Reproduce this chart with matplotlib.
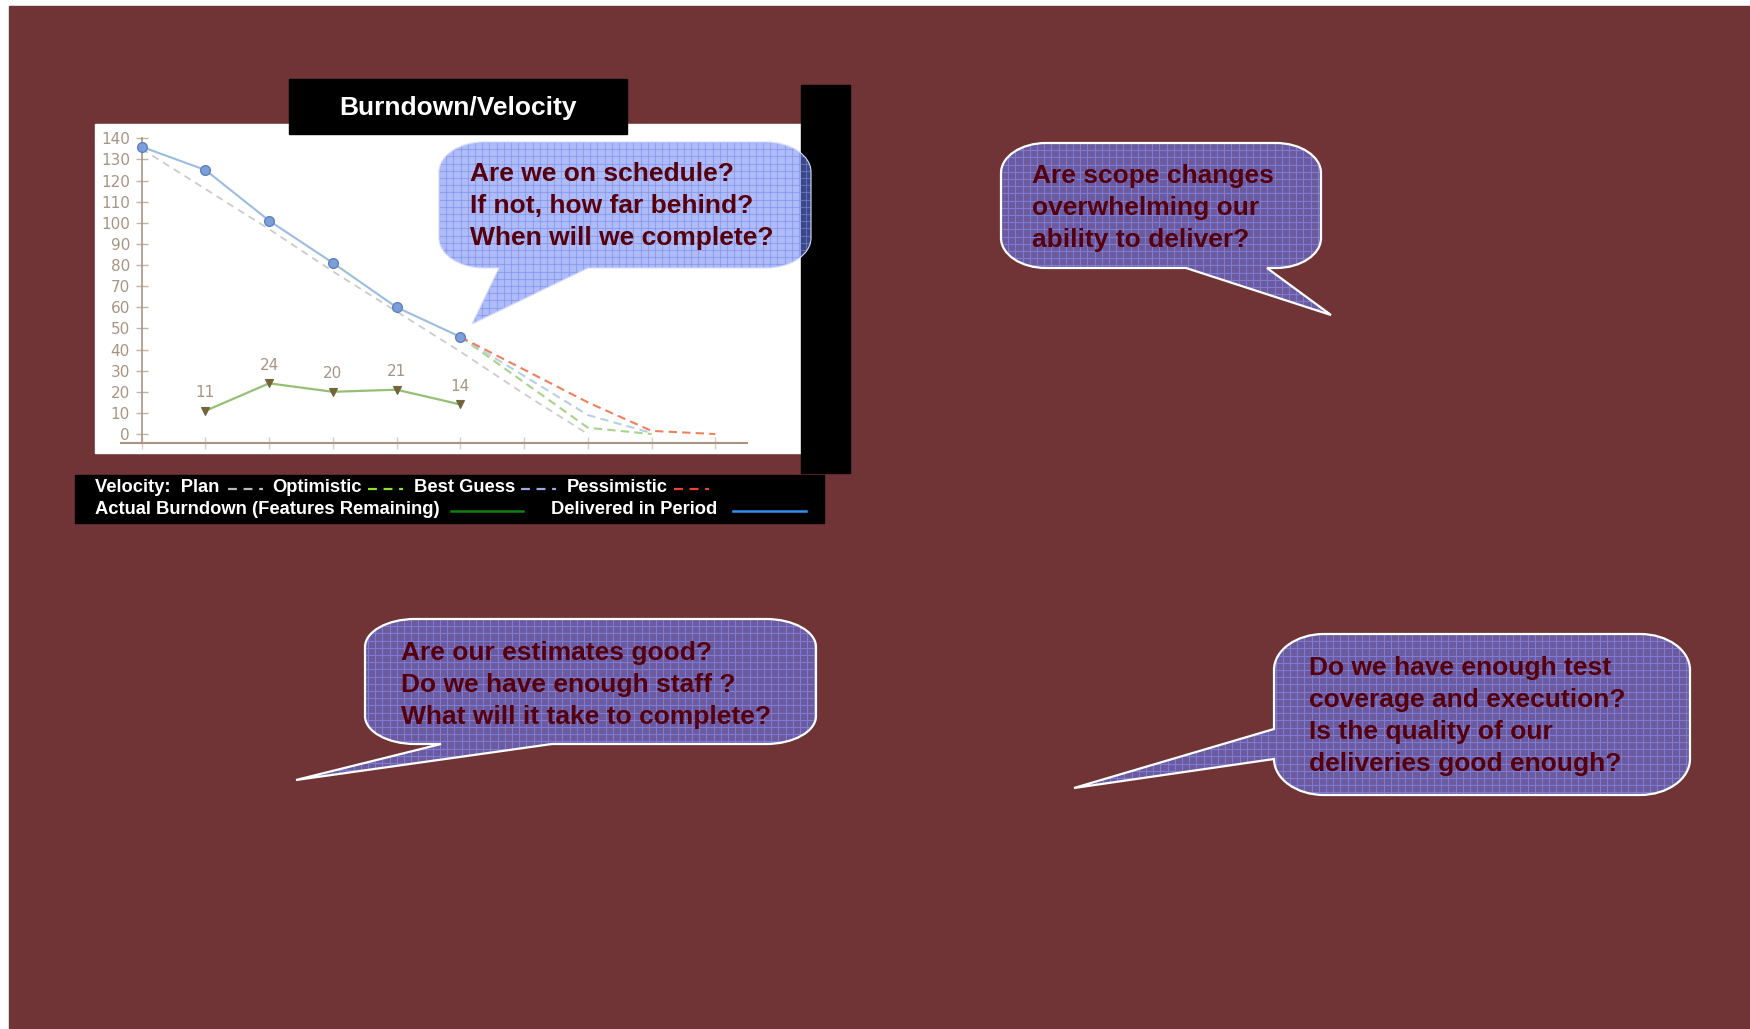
import numpy as np
import matplotlib
matplotlib.use("Agg")
import matplotlib.pyplot as plt
from matplotlib.path import Path
from matplotlib.patches import PathPatch, Rectangle
from matplotlib.collections import LineCollection

### Data
y_ticks = [0, 10, 20, 30, 40, 50, 60, 70, 80, 90, 100, 110, 120, 130, 140]
periods = [0, 1, 2, 3, 4, 5, 6, 7, 8, 9]

plan_x = [0, 1, 2, 3, 4, 5, 6, 7]
plan = [135, 116, 97, 77, 58, 39, 19, 0]

actual_x = [0, 1, 2, 3, 4, 5]
actual = [136, 125, 101, 81, 60, 46]

optimistic_x = [5, 7, 8]
optimistic = [46, 3, 0]
best_guess_x = [5, 7, 8]
best_guess = [46, 9, 0.5]
pessimistic_x = [5, 7, 8, 9]
pessimistic = [46, 15, 1.5, 0]

delivered_x = [1, 2, 3, 4, 5]
delivered = [11, 24, 20, 21, 14]

q_schedule = ["Are we on schedule?", "If not, how far behind?", "When will we complete?"]
q_scope = ["Are scope changes", "overwhelming our", "ability to deliver?"]
q_estimates = ["Are our estimates good?", "Do we have enough staff ?", "What will it take to complete?"]
q_quality = ["Do we have enough test", "coverage and execution?", "Is the quality of our",
             "deliveries good enough?"]

### Styles
W, H = 1750, 1029
MAROON = "#703437"
AXIS_GREY = "#a89484"
TEXT_RED = "#55000c"
BOLD = dict(family=["Liberation Sans", "DejaVu Sans"], fontweight="bold")
K = 0.5523


def bubble_path(x0, y0, x1, y1, rx, ry, tail):
    edge, p, q, tip = tail
    verts, codes = [(x0 + rx, y0)], [Path.MOVETO]

    def line(pt):
        verts.append(pt)
        codes.append(Path.LINETO)

    def corner(a, b, c):
        verts.extend([a, b, c])
        codes.extend([Path.CURVE4] * 3)

    line((x1 - rx, y0))
    corner((x1 - rx + K * rx, y0), (x1, y0 + ry - K * ry), (x1, y0 + ry))
    line((x1, y1 - ry))
    corner((x1, y1 - ry + K * ry), (x1 - rx + K * rx, y1), (x1 - rx, y1))
    if edge == "bottom":
        line((q, y1))
        line(tip)
        line((p, y1))
    line((x0 + rx, y1))
    corner((x0 + rx - K * rx, y1), (x0, y1 - ry + K * ry), (x0, y1 - ry))
    if edge == "left":
        line((x0, q))
        line(tip)
        line((x0, p))
    line((x0, y0 + ry))
    corner((x0, y0 + ry - K * ry), (x0 + rx - K * rx, y0), (x0 + rx, y0))
    verts.append((x0 + rx, y0))
    codes.append(Path.CLOSEPOLY)
    return Path(verts, codes)


def draw_bubble(ax, path, face, grid, edge, lw, alpha=1.0, step=7.2):
    patch = PathPatch(path, facecolor=face, edgecolor="none", alpha=alpha, zorder=1)
    ax.add_patch(patch)
    ext = path.get_extents()
    segs = [[(x, ext.y0), (x, ext.y1)] for x in np.arange(ext.x0, ext.x1, step)]
    segs += [[(ext.x0, y), (ext.x1, y)] for y in np.arange(ext.y0, ext.y1, step)]
    lc = LineCollection(segs, colors=grid, linewidths=0.8, zorder=2)
    ax.add_collection(lc)
    lc.set_clip_path(patch)
    ax.add_patch(PathPatch(path, facecolor="none", edgecolor=edge, lw=lw, zorder=3))


def bubble_text(ax, x, y, lines, dy, size=19):
    for i, s in enumerate(lines):
        ax.text(x, y + i * dy, s, color=TEXT_RED, fontsize=size, va="center", ha="left",
                zorder=4, **BOLD)


fig = plt.figure(figsize=(W / 100, H / 100), dpi=100, facecolor="white")

# background layer in pixel coordinates
bg = fig.add_axes([0, 0, 1, 1], zorder=0)
bg.set_xlim(0, W)
bg.set_ylim(H, 0)
bg.axis("off")
bg.add_patch(Rectangle((9, 6), W - 9, H - 6, color=MAROON))
bg.add_patch(Rectangle((95, 124), 706, 329, color="white"))
bg.add_patch(Rectangle((801, 85), 49, 388, color="black"))
bg.add_patch(Rectangle((289, 79), 338, 55, color="black"))
bg.text(458, 108, "Burndown/Velocity", color="white", fontsize=19, ha="center", va="center", **BOLD)

# legend strip
bg.add_patch(Rectangle((75, 475), 749, 48, color="black"))
leg = dict(color="white", fontsize=13.2, va="center", ha="left", **BOLD)
bg.text(95, 488, "Velocity:  Plan", **leg)
bg.text(272, 488, "Optimistic", **leg)
bg.text(414, 488, "Best Guess", **leg)
bg.text(567, 488, "Pessimistic", **leg)
bg.text(95, 510, "Actual Burndown (Features Remaining)", **leg)
bg.text(551, 510, "Delivered in Period", **leg)
for x0, col in [(228, "#b8b8b8"), (368, "#8ee030"), (521, "#a0a8e8"), (674, "#f04030")]:
    bg.plot([x0, x0 + 35], [489, 489], color=col, lw=1.6, dashes=(4, 3))
bg.plot([451, 523], [511, 511], color="#108010", lw=1.8)
bg.plot([733, 806], [511, 511], color="#3090f0", lw=1.8)

# burndown chart
ax = fig.add_axes([113 / W, (H - 442.5) / H, 634.2 / W, 308.4 / H], zorder=1)
ax.set_facecolor("none")
ax.set_xlim(-0.45, 9.5)
ax.set_ylim(-4, 142)

ax.plot(plan_x, plan, color="#cccccc", lw=1.3, dashes=(4, 3))
ax.plot(optimistic_x, optimistic, color="#a8d488", lw=1.5, dashes=(4, 2.5))
ax.plot(best_guess_x, best_guess, color="#b8cfea", lw=1.5, dashes=(4, 2.5))
ax.plot(pessimistic_x, pessimistic, color="#f0805c", lw=1.5, dashes=(4, 2.5))
ax.plot(actual_x, actual, color="#9cbce2", lw=1.5, marker="o", ms=7,
        mfc="#7c9fd8", mec="#5d80c4", mew=1, clip_on=False, zorder=4)
ax.plot(delivered_x, delivered, color="#94c074", lw=1.6, marker="v", ms=6,
        mfc="#7a6236", mec="#6a6a40", mew=0.8, clip_on=False, zorder=4)
for x, v in zip(delivered_x, delivered):
    ax.annotate(str(v), (x, v), xytext=(0, 13), textcoords="offset points",
                ha="center", va="center", fontsize=11, color=AXIS_GREY)

for side in ["top", "right"]:
    ax.spines[side].set_visible(False)
ax.spines["left"].set_position(("data", 0))
ax.spines["left"].set_bounds(-4, 140)
ax.spines["bottom"].set_bounds(-0.33, 9.5)
ax.spines["left"].set_color(AXIS_GREY)
ax.spines["bottom"].set_color(AXIS_GREY)
ax.spines["left"].set_linewidth(1.2)
ax.spines["bottom"].set_linewidth(1.5)
ax.set_yticks(y_ticks)
ax.set_xticks(periods)
ax.set_xticklabels([])
ax.tick_params(axis="y", direction="inout", length=9, width=1, color="#c4b4a4",
               labelsize=11, labelcolor=AXIS_GREY, pad=4)
ax.tick_params(axis="x", direction="inout", length=9, width=1, color="#d8d0c8")

# question bubbles on top
fg = fig.add_axes([0, 0, 1, 1], zorder=2)
fg.set_xlim(0, W)
fg.set_ylim(H, 0)
fg.axis("off")
fg.patch.set_alpha(0)

p1 = bubble_path(439, 142, 811, 268, 45, 30, ("bottom", 499, 588, (472, 324)))
draw_bubble(fg, p1, "#6f85f2", (0.45, 0.55, 0.95, 0.55), "#d8dcff", 0.8, alpha=0.55)
bubble_text(fg, 470, 174, q_schedule, 32)

p2 = bubble_path(1001, 143, 1321, 268, 45, 30, ("bottom", 1186, 1267, (1331, 315)))
draw_bubble(fg, p2, "#6c5a9c", "#7d7bd6", "white", 1.6)
bubble_text(fg, 1032, 176, q_scope, 32)

p3 = bubble_path(365, 619, 816, 744, 50, 28, ("bottom", 441, 552, (296, 780)))
draw_bubble(fg, p3, "#6c5a9c", "#7d7bd6", "white", 1.6)
bubble_text(fg, 401, 653, q_estimates, 32)

p4 = bubble_path(1274, 634, 1690, 795, 50, 36, ("left", 729, 759, (1074, 788)))
draw_bubble(fg, p4, "#6c5a9c", "#7d7bd6", "white", 1.6)
bubble_text(fg, 1309, 668, q_quality, 32)

fig.savefig("out.png", dpi=100, facecolor="white")
